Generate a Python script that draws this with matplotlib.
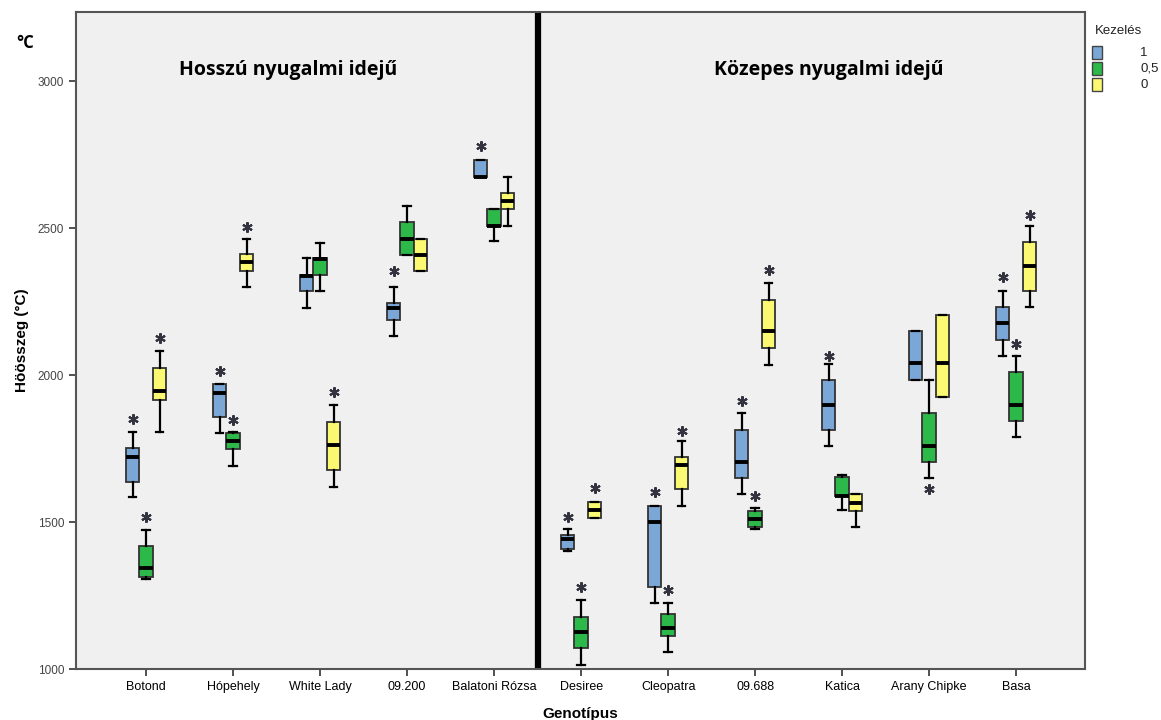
import numpy as np
import matplotlib
matplotlib.use("Agg")
import matplotlib.pyplot as plt
from matplotlib.patches import Rectangle

nan = np.nan

genotypes = ["Botond", "Hópehely", "White Lady", "09.200", "Balatoni Rózsa",
             "Desiree", "Cleopatra", "09.688", "Katica", "Arany Chipke", "Basa"]
treatments = ["1", "0,5", "0"]
colors = ["#7ba7d7", "#2db84a", "#fbf872"]

# Kezelés = 1
t1_lo = [1585, 1803, 2230, 2134, 2674, 1401, 1225, 1594, 1760, 1983, 2066]
t1_q1 = [1638, 1856, 2285, 2189, 2674, 1409, 1280, 1649, 1814, 1983, 2120]
t1_med = [1723, 1940, 2339, 2227, 2674, 1441, 1501, 1705, 1899, 2040, 2176]
t1_q3 = [1751, 1969, 2342, 2245, 2731, 1456, 1554, 1815, 1982, 2150, 2231]
t1_hi = [1805, 1971, 2397, 2300, 2731, 1476, 1554, 1871, 2037, 2150, 2288]
t1_star = [1850, 2014, nan, 2355, 2780, 1519, 1603, 1912, 2066, nan, 2334]

# Kezelés = 0,5
t2_lo = [1308, 1691, 2286, 2410, 2456, 1014, 1059, 1478, 1540, 1651, 1789]
t2_q1 = [1312, 1748, 2340, 2410, 2508, 1070, 1112, 1484, 1588, 1705, 1845]
t2_med = [1343, 1775, 2396, 2465, 2508, 1125, 1141, 1509, 1588, 1759, 1900]
t2_q3 = [1418, 1802, 2399, 2520, 2566, 1178, 1186, 1537, 1653, 1872, 2010]
t2_hi = [1473, 1805, 2451, 2577, 2566, 1235, 1225, 1547, 1660, 1983, 2066]
t2_star = [1517, 1847, nan, nan, nan, 1280, 1269, 1590, nan, 1614, 2105]

# Kezelés = 0
t3_lo = [1805, 2299, 1619, 2356, 2509, 1513, 1554, 2036, 1484, 1926, 2232]
t3_q1 = [1915, 2355, 1677, 2356, 2566, 1513, 1611, 2093, 1538, 1926, 2287]
t3_med = [1947, 2384, 1761, 2410, 2594, 1541, 1694, 2149, 1564, 2040, 2371]
t3_q3 = [2026, 2412, 1841, 2465, 2621, 1567, 1720, 2257, 1595, 2204, 2453]
t3_hi = [2081, 2465, 1898, 2465, 2674, 1567, 1776, 2314, 1595, 2204, 2508]
t3_star = [2128, 2504, 1943, nan, nan, 1615, 1810, 2359, nan, nan, 2544]

series = [
    (t1_lo, t1_q1, t1_med, t1_q3, t1_hi, t1_star),
    (t2_lo, t2_q1, t2_med, t2_q3, t2_hi, t2_star),
    (t3_lo, t3_q1, t3_med, t3_q3, t3_hi, t3_star),
]

offsets = [-0.155, 0.0, 0.155]
box_w = 0.155

fig = plt.figure(figsize=(11.61, 7.2), dpi=100)
ax = fig.add_axes([0.0655, 0.0708, 0.869, 0.9122])
ax.set_facecolor("#f0f0f0")

x = np.arange(len(genotypes))
for (lo, q1, med, q3, hi, star), off, col in zip(series, offsets, colors):
    stats = [
        {"whislo": lo[i], "q1": q1[i], "med": med[i], "q3": q3[i], "whishi": hi[i]}
        for i in range(len(genotypes))
    ]
    ax.bxp(stats, positions=x + off, widths=box_w, capwidths=box_w * 0.55,
           showfliers=False, patch_artist=True,
           boxprops=dict(facecolor=col, edgecolor="#333333", linewidth=1.3),
           medianprops=dict(color="black", linewidth=2.8),
           whiskerprops=dict(color="black", linewidth=1.6),
           capprops=dict(color="black", linewidth=1.6),
           manage_ticks=False)
    # significance asterisks
    ax.plot(x + off, star, linestyle="none", marker=(6, 2, 0), markersize=7.5,
            markeredgewidth=1.5, color="#333340")

ax.axvline(4.5, color="black", linewidth=4.5)

ax.set_xlim(-0.805, 10.79)
ax.set_ylim(1000, 3235)
ax.set_yticks([1000, 1500, 2000, 2500, 3000])
ax.set_xticks(x)
ax.set_xticklabels(genotypes, family=["Liberation Sans Narrow", "Liberation Sans"], fontsize=9)
for lab in ax.get_yticklabels():
    lab.set_family("Liberation Sans")
    lab.set_fontsize(8.5)
    lab.set_color("#444444")
ax.tick_params(axis="both", direction="out", length=5, width=1.2, color="#333333")

for sp in ax.spines.values():
    sp.set_color("#555555")
    sp.set_linewidth(1.5)

ax.set_xlabel("Genotípus", family="Liberation Sans", fontsize=11, fontweight="bold", labelpad=10)
ax.set_ylabel("Höösszeg (°C)", family="Liberation Sans", fontsize=11, fontweight="bold", labelpad=6)

ax.text(1.63, 3040, "Hosszú nyugalmi idejű", family="Open Sans", fontsize=14,
        fontweight="bold", ha="center", va="center")
ax.text(7.84, 3040, "Közepes nyugalmi idejű", family="Open Sans", fontsize=14,
        fontweight="bold", ha="center", va="center")
fig.text(0.022, 0.94, "°C", family="Open Sans", fontsize=12, fontweight="bold",
         ha="center", va="center")

# legend
fig.text(0.943, 0.957, "Kezelés", family="Liberation Sans", fontsize=9.5,
         color="#222222", ha="left", va="center")
for k, (lab, col) in enumerate(zip(treatments, colors)):
    yc = 0.927 - k * 0.0222
    fig.patches.append(Rectangle((0.9405, yc - 0.009), 0.0085, 0.018, facecolor=col,
                                 edgecolor="#444444", linewidth=1.0,
                                 transform=fig.transFigure, figure=fig))
    fig.text(0.982, yc, lab, family="Liberation Sans", fontsize=9.5,
             color="#222222", ha="left", va="center")

fig.savefig("out.png", dpi=100)
